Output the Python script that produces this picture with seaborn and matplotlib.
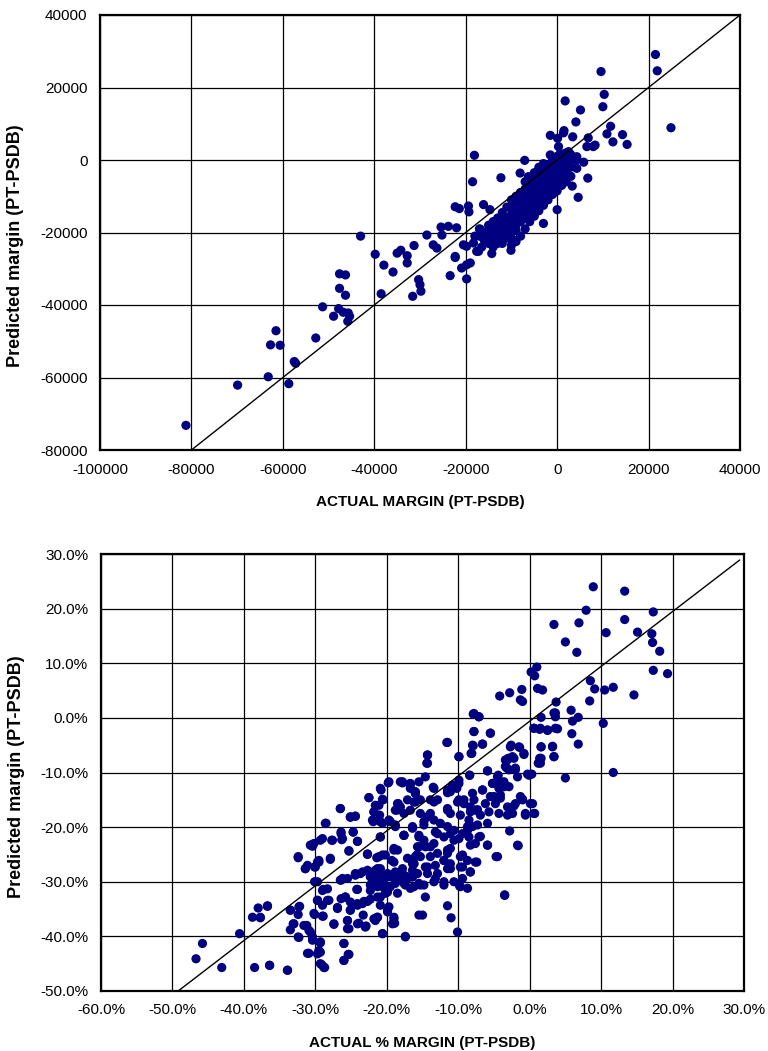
import matplotlib
matplotlib.use("Agg")
import matplotlib.pyplot as plt
import seaborn as sns
import pandas as pd

# ---------------- top chart: absolute margin ----------------
top_actual = [
    -81200, -69900, -63200, -58700, -57500, -57200, -61500, -62700, -60600, -52800,
    -51300, -48900, -47800, -46800, -45700, -45400, -45800, -47600, -46300, -47600,
    -46300, -43000, -39800, -37900, -35900, -38500, -35000, -34200, -32800, -32800,
    -31300, -31600, -30300, -30000, -29800,
    21500, 21900, 9600, 10300, 10000, 24900, 1750, 5100, 4100, 11700,
    10900, 12200, 14300, 15300, 6800, 7900, -1500, 1500, 3400, 100,
    -18100, -18500, -7100, -12300, 6700, 3300, 4600, 0, -3000, 5800,
    4200, -22300, -21400, -19400, -19300, -16100, -14700, -25400, -23800, -22000,
    -28500, -25200, -27100, -26300, -22300, -23400, -19800, -20900, -19000, -20500,
    -18300, -17200, -15400, -14300, -10100, -9600, -12500,
    1400, 300, -1500, 700, 2500, 6500, 8300, 4300, 4300, -16800,
    -19800, -22300, -19800, -17600, -8100, -6300,
    -15000, -15000, -15000, -14000, -14000, -14000, -13000, -13000, -13000, -13000,
    -12000, -12000, -12000, -12000, -11000, -11000, -11000, -11000,
    -10000, -10000, -10000, -10000, -10000, -9000, -9000, -9000, -9000, -9000,
    -8000, -8000, -8000, -8000, -8000, -7000, -7000, -7000, -7000, -7000,
    -6000, -6000, -6000, -6000, -6000, -5000, -5000, -5000, -5000, -5000,
    -4000, -4000, -4000, -4000, -4000, -3000, -3000, -3000, -3000, -3000,
    -2000, -2000, -2000, -2000, -2000, -1000, -1000, -1000, -1000, -1000,
    0, 0, 0, 0, 0, 1000, 1000, 1000, 1000, 2000, 2000, 2000, 2000,
    3000, 3000, 3000,
    -12500, -9500, -7500, -5500, -3500, -1500, 500, -6500, -4500, -2500,
    -500, 1500, -8500, -10500, -11500, -13500, -14500, -16000, -17000, -16500,
    -7000, -6000, -5000, -4000, -3000, -2000, -1000, 0, 1000, 2000, 3000,
    -8000, -9000, -10000,
    -13000, -12000, -11000, -10000, -9000, -8000, -7000, -6000, -5000, -4000,
    -3000, -14000, -15000, -16000, -17000, -18000,
]
top_predicted = [
    -73200, -62100, -59800, -61700, -55600, -56100, -47100, -51000, -51100, -49100,
    -40500, -43100, -41000, -42000, -42200, -43100, -44500, -35400, -37300, -31400,
    -31700, -21000, -26000, -29000, -30900, -36900, -25700, -24900, -26400, -28400,
    -23600, -37600, -33000, -34400, -36200,
    29100, 24600, 24400, 18100, 14700, 8900, 16300, 13800, 10500, 9300,
    7200, 5000, 7000, 4300, 6100, 3700, 6800, 8100, 6400, 6000,
    1300, -6000, -100, -4900, -5000, -7200, -10300, -13700, -17500, -600,
    0, -12900, -13400, -12700, -14300, -12300, -13700, -18500, -18300, -18700,
    -20700, -20700, -23400, -24300, -26900, -31900, -32800, -29800, -28400, -23400,
    -22900, -25200, -22500, -25800, -24900, -22000, -20600,
    7500, 3700, 1400, 1800, 2300, 3700, 4100, 900, -2300, -19100,
    -23800, -26600, -28900, -25200, -3600, -4600,
    -23000, -21000, -19500, -24000, -21500, -19000, -23000, -20500, -18000, -22000,
    -21000, -19000, -17000, -23000, -20000, -18000, -16000, -21500,
    -19000, -17000, -15000, -13000, -20000, -18000, -16000, -14000, -12000, -19500,
    -17000, -15000, -13000, -11000, -9000, -16000, -14000, -12000, -10000, -8000,
    -14500, -12500, -10500, -8500, -7000, -13000, -11000, -9000, -7000, -5500,
    -12000, -10000, -8000, -6000, -4500, -10500, -8500, -6500, -4500, -3000,
    -9000, -7000, -5000, -3000, -1500, -7500, -5500, -3500, -2000, 0,
    -6000, -4000, -2000, -500, 1000, -4500, -2500, -1000, 500, -3500, -1500, 500, 2000,
    -2000, 0, 1500,
    -20000, -15500, -13000, -9500, -7000, -4500, -3000, -11000, -8000, -6000,
    -2500, -1000, -14000, -17500, -19500, -21000, -22500, -22000, -21000, -24000,
    -19000, -17000, -15500, -14000, -12500, -11000, -9500, -8500, -7000, -6000, -4500,
    -21000, -22500, -23500,
    -16000, -14500, -13000, -11000, -10000, -9000, -6000, -5000, -3500, -2000,
    -1000, -17000, -18000, -20000, -19000, -21000,
]
top_xticks = [-100000, -80000, -60000, -40000, -20000, 0, 20000, 40000]
top_yticks = [-80000, -60000, -40000, -20000, 0, 20000, 40000]
top_diag_x = [-80000, 40000]
top_diag_y = [-80000, 40000]

# ---------------- bottom chart: % margin ----------------
bot_actual = [
    8.9, 13.3, 7.9, 17.3, 3.4, 6.9, 10.7, 13.3, 15.1, 17.1, 17.2, 18.2, 5.0, 6.6,
    17.3, 19.3, 1.0, 0.2, 0.7, 1.1, 1.8, 8.5, 9.1, 10.5, 11.7, 14.6,
    -4.2, -2.8, -1.1, -1.0, 3.7, 8.4, 5.8, 6.8, 6.0, 3.4, 3.6, 1.6, 10.3,
    -7.8, -7.1, 0.6, 1.4, 2.5, 3.9, 5.9, 6.8, -7.8, -5.5, -11.6, -7.9, -8.1, -6.6,
    -14.3, -14.4, -9.9, -2.6, -1.4, -0.8, 1.6, 3.2, 3.4, 1.6, 1.2,
    -3.4, -3.0, -2.4, -3.2, -2.0, -1.7, -5.9, -4.4, -8.4, -0.3, 0.3, 5.0, 11.7,
    -13.5, -9.9, -10.2, -11.1, -11.5,
    -6.6, -5.2, -4.3, -3.6, -2.9, -4.1, -5.0, -9.2, -7.8, -1.0, 0.1, 0.7, -0.6,
    -2.2, -3.1, -4.3, -5.7, -6.2, -7.3, -8.3, -9.9, -11.5, -12.9, -13.9, -14.8,
    -2.8, -1.6, -4.7, -5.9, -7.1, -8.3, -9.4, -7.6, -8.3, -9.7, -11.1, -12.0,
    -11.5, -10.6, -8.7, -13.2, -13.9, -14.3, -13.2, -12.0, -9.4, -9.8, -8.7,
    -14.6, -3.5, -11.5, -11.0, -10.1, -15.0, -15.3, -15.3,
    -45.8, -46.7, -43.1, -40.6, -38.5, -36.4, -33.9, -38.0, -36.7, -38.8, -37.7,
    -33.5, -32.2, -32.4, -33.1, -33.5, -32.4, -31.2, -30.7, -30.4, -29.3, -29.3,
    -29.7, -31.1, -29.1, -28.7, -26.0, -25.4, -26.0, -27.4, -25.5, -24.1, -22.9,
    -25.5, -23.3, -21.8, -21.3, -20.6, -17.4, -19.0, -18.9, -15.5, -30.1, -28.9,
    -26.9, -25.8, -25.1, -24.1, -23.2, -22.3, -25.1, -29.7, -28.1, -26.4,
    -29.7, -28.9, -26.4, -25.5, -24.4, -23.4, -24.2,
    -22.0, -21.3, -20.6, -19.9, -20.4, -19.5, -18.8, -18.1, -17.4, -16.7, -16.4,
    -15.5, -20.9, -19.7, -19.9, -21.6,
    -32.4, -31.4, -30.1, -29.5, -30.7, -29.3, -30.4, -27.9, -27.7, -26.4, -26.3,
    -24.7, -24.1, -25.3, -28.6, -26.5, -25.1, -24.4, -22.7, -21.4, -20.6,
    -20.9, -19.0, -17.6, -16.4,
    -22.5, -20.9, -19.8, -20.6, -21.6, -21.8, -21.0, -21.9, -20.6, -19.5, -18.8,
    -18.8, -18.4, -17.8, -16.8, -16.0, -16.0, -15.5, -15.5, -15.8,
    -16.4, -17.8, -18.8, -17.6, -19.0, -20.9, -21.6, -22.7,
    -19.7, -17.8, -16.7, -16.0, -20.8, -20.5, -22.5, -21.1, -21.8, -22.0, -26.5,
    -25.1, -24.4, -28.5, -18.5, -18.6, -20.9, -19.7, -18.8, -16.4, -17.6, -20.9,
    -26.4, -26.2, -24.7, -24.1, -27.6, -29.0, -30.2, -30.4,
    -32.4, -27.9, -25.3, -22.7, -31.1, -31.4, -30.0, -29.5,
    -21.1, -20.2, -19.3, -18.5, -19.0, -17.1, -16.2, -16.4, -15.7,
    -21.3, -22.3, -21.6, -20.9, -19.9, -19.2, -18.5, -18.1, -17.1, -16.4,
    -22.3, -21.3, -20.4, -19.5, -18.5, -20.2, -21.3, -20.9, -19.9, -22.3,
    -26.5, -26.2, -24.4, -23.7, -24.1, -22.7, -23.4, -24.1, -25.8, -26.9, -25.1,
    -29.0, -29.7, -28.3,
    -30.2, -29.0, -27.4, -25.5, -25.3, -23.9, -23.0, -21.6, -21.3, -19.0, -19.2,
    -20.6, -17.4, -26.0, -25.3, -26.0,
    -33.5, -32.3, -33.0, -31.6, -30.9, -30.4, -29.3, -29.5, -30.9, -32.3, -29.3,
    -28.8, -36.4, -33.9, -36.7, -37.7, -29.7, -30.1, -29.0, -28.3,
    -7.9, -7.1, -7.8, -5.5, -11.5, -8.0, -6.6, -8.2, -9.9, -14.3, -14.3,
    -2.7, -1.5, -0.8, -3.1, -2.2, -3.4, -2.9, -2.0,
    -5.9, -8.4, -9.9, -10.8, -11.5, -13.4, -14.6, -15.5, -16.7, -18.1,
    -0.1, 1.5, 1.4, 3.4, 3.2, 1.6, 0.6, 1.5, 2.5, 3.6, 3.6, -1.3,
    -8.0, -6.6, -5.2, -4.3, -4.5, -3.6, -5.5, -4.1, -4.8, -3.1, -2.4, -2.0, -1.0,
    0.4, -0.6, 0.6, -1.3,
    -8.3, -7.6, -6.9, -8.5, -9.7, -11.1, -11.5, -10.1, -9.2,
    -5.9, -7.3, -8.0, -8.7, -9.4, -9.9, -8.5, -6.9, -7.6, -5.9, -4.5, -7.4, -8.7,
    -9.7, -9.4, -8.3, -1.7, -3.5,
    -16.7, -16.0, -15.3, -16.2, -17.1, -18.1, -17.6, -16.7, -13.9, -13.4, -15.3,
    -14.3, -13.4, -12.5, -11.5, -14.8, -16.4, -17.6, -15.5, -14.8, -15.7, -14.6,
    -13.4, -12.9, -12.0, -11.1, -10.6, -11.1, -11.5, -12.9, -13.9, -16.0, -16.2,
    -14.6, -13.2, -12.0, -11.1, -11.5, -12.9, -14.3, -15.7, -17.1, -17.6, -16.2,
    -14.8, -13.4, -12.0, -10.6, -9.7,
]
bot_predicted = [
    24.0, 23.2, 19.7, 19.4, 17.1, 17.4, 15.6, 18.0, 15.7, 15.4, 13.8, 12.2, 13.9, 12.0,
    8.7, 8.1, 9.3, 8.4, 7.7, 5.4, 5.1, 6.8, 5.3, 5.1, 5.6, 4.2,
    4.0, 4.6, 5.2, 3.0, 2.9, 3.1, 1.4, 0.1, -0.6, 0.9, 0.2, 0.1, -1.0,
    0.8, 0.2, -1.9, -2.1, -2.3, -2.0, -2.9, -4.8, -2.5, -2.8, -4.5, -5.1, -6.5, -4.8,
    -6.8, -8.3, -7.1, -5.0, -5.4, -6.7, -5.3, -5.2, -7.1, -7.4, -8.3,
    -7.7, -7.4, -7.1, -9.2, -9.2, -10.8, -9.7, -10.5, -10.5, -10.3, -10.3, -11.0, -10.0,
    -12.7, -12.0, -12.9, -13.5, -13.7,
    -13.2, -12.0, -11.7, -12.6, -12.6, -14.1, -14.4, -15.0, -15.0, -14.9, -15.7, -17.5, -17.8,
    -16.1, -17.8, -17.5, -17.2, -15.7, -16.8, -17.2, -15.0, -16.9, -15.0, -17.5, -19.0,
    -20.7, -23.4, -25.4, -23.3, -21.8, -23.3, -25.1, -26.4, -28.2, -27.3, -27.6, -26.1,
    -24.2, -20.6, -19.9, -20.9, -23.6, -27.3, -29.4, -30.6, -29.4, -30.8, -31.2,
    -32.8, -32.5, -34.4, -36.6, -39.2, -36.1, -30.6, -25.4,
    -41.3, -44.1, -45.7, -39.5, -45.7, -45.3, -46.2, -34.8, -34.4, -36.5, -36.6,
    -35.2, -34.5, -36.0, -37.7, -38.8, -40.1, -38.0, -39.2, -40.7, -41.2, -42.9,
    -43.2, -43.1, -45.2, -45.7, -41.3, -43.3, -44.4, -37.8, -38.6, -37.7, -38.1,
    -37.1, -36.1, -36.8, -36.5, -39.5, -40.0, -36.5, -37.6, -36.1, -36.0, -36.3,
    -34.7, -32.8, -33.7, -34.0, -33.6, -33.2, -35.2, -33.4, -33.4, -33.1,
    -30.0, -31.4, -29.7, -29.4, -28.8, -28.2, -31.4,
    -29.1, -30.0, -30.9, -31.9, -29.7, -29.1, -30.3, -29.1, -30.6, -31.2, -29.1,
    -30.3, -32.8, -34.6, -35.5, -36.7,
    -25.6, -27.6, -27.3, -26.4, -23.3, -22.4, -23.2, -25.9, -22.4, -21.2, -22.3,
    -20.9, -22.6, -24.4, -19.3, -16.6, -18.1, -18.0, -25.0, -25.6, -25.1,
    -21.8, -24.2, -21.5, -20.2,
    -14.6, -12.9, -11.9, -14.9, -16.0, -17.2, -17.8, -19.0, -19.3, -19.0, -19.6,
    -16.9, -15.7, -11.9, -12.1, -13.8, -15.4, -21.8, -23.6, -25.1,
    -26.7, -27.6, -28.2, -28.8, -26.4, -27.6, -27.9, -27.9,
    -11.7, -11.7, -12.3, -13.5, -13.2, -15.0, -14.6, -16.0, -17.2, -18.7, -16.6,
    -18.2, -18.0, -19.3, -15.7, -16.9, -19.0, -18.7, -19.9, -20.1, -21.5, -21.8,
    -20.9, -22.1, -20.9, -22.6, -22.4, -22.1, -23.0, -23.5,
    -25.4, -25.7, -24.3, -24.9, -27.0, -27.6, -27.3, -26.1,
    -25.4, -25.1, -26.1, -24.2, -23.9, -25.7, -26.7, -27.9, -25.1,
    -27.6, -29.1, -29.1, -28.8, -28.5, -29.1, -28.5, -29.4, -29.4, -29.1,
    -30.6, -30.9, -30.9, -30.9, -32.1, -32.1, -32.8, -34.3, -35.2, -31.6,
    -29.7, -29.4, -28.5, -28.5, -31.4, -33.6, -34.0, -34.3, -32.8, -34.9, -35.2,
    -34.3, -33.4, -33.4,
    -35.8, -36.3, -37.7, -37.1, -38.6, -37.6, -38.3, -37.1, -36.5, -36.8, -37.7,
    -39.5, -40.1, -41.3, -43.3, -44.4,
    -35.2, -34.6, -37.7, -38.0, -38.9, -40.1, -41.0, -42.6, -43.1, -40.2, -45.0,
    -45.7, -45.3, -46.2, -34.5, -36.5, -26.4, -30.0, -31.6, -31.3,
    0.7, 0.2, -2.5, -2.8, -4.5, -5.0, -4.8, -6.5, -7.1, -6.8, -8.3,
    -5.3, -5.3, -6.5, -7.7, -7.4, -8.9, -9.5, -9.5,
    -9.7, -10.5, -11.4, -12.3, -13.2, -12.9, -10.8, -11.7, -12.0, -11.7,
    -10.5, -8.3, -7.4, -7.1, -5.3, -5.3, -1.9, -1.9, -2.2, -1.9, 0.9, 3.3,
    -13.8, -13.2, -12.0, -12.9, -10.8, -11.7, -14.4, -14.7, -15.7, -16.3, -17.5, -15.7, -15.0,
    -15.7, -17.5, -17.5, -14.4,
    -16.3, -16.9, -17.8, -18.7, -17.8, -17.5, -16.6, -15.4, -15.7,
    -19.3, -19.6, -19.9, -20.6, -21.2, -22.1, -21.8, -21.7, -23.0, -23.3, -25.4, -26.4, -26.1,
    -25.4, -27.3, -28.2, -23.3, -32.4,
    -12.9, -13.8, -15.0, -15.4, -15.0, -16.3, -17.5, -16.9, -15.0, -15.4, -17.5,
    -18.1, -18.7, -19.3, -19.9, -19.6, -19.9, -21.5, -21.5, -22.4, -23.6, -23.6,
    -23.0, -21.2, -21.8, -21.2, -22.4, -23.9, -24.8, -24.8, -25.4, -25.4, -26.7,
    -27.3, -27.0, -26.1, -26.7, -27.6, -28.5, -28.5, -28.5, -29.1, -30.3, -30.9,
    -30.6, -30.0, -30.0, -30.0, -30.9,
]
bot_xticks = [-60, -50, -40, -30, -20, -10, 0, 10, 20, 30]
bot_yticks = [-50, -40, -30, -20, -10, 0, 10, 20, 30]
bot_diag_x = [-49.2, 29.4]
bot_diag_y = [-50.0, 28.9]

top_df = pd.DataFrame({"actual": top_actual, "predicted": top_predicted})
bot_df = pd.DataFrame({"actual": bot_actual, "predicted": bot_predicted})

sns.set_style("white")
plt.rcParams["font.family"] = ["Liberation Sans", "DejaVu Sans"]
for key in ["text.color", "axes.labelcolor", "xtick.color", "ytick.color"]:
    plt.rcParams[key] = "black"

fig = plt.figure(figsize=(7.68, 10.51), dpi=100)
ax1 = fig.add_axes([100 / 768, 1 - 450 / 1051, 640 / 768, 435 / 1051])
ax2 = fig.add_axes([101 / 768, 1 - 991 / 1051, 643 / 768, 437 / 1051])

navy = "#000080"

def style(ax, xticks, yticks, xfmt, yfmt, xlabel, ylab_y):
    ax.set_xlim(xticks[0], xticks[-1])
    ax.set_ylim(yticks[0], yticks[-1])
    ax.set_xticks(xticks)
    ax.set_yticks(yticks)
    ax.set_xticklabels([xfmt(v) for v in xticks], fontsize=11)
    ax.set_yticklabels([yfmt(v) for v in yticks], fontsize=11)
    ax.grid(True, color="black", linewidth=0.9)
    ax.set_axisbelow(True)
    ax.tick_params(length=0, pad=9)
    for s in ax.spines.values():
        s.set_color("black")
        s.set_linewidth(1.6)
    ax.set_xlabel(xlabel, fontsize=11, fontweight="bold", labelpad=13)
    ax.set_ylabel("Predicted margin (PT-PSDB)", fontsize=13, fontweight="bold")
    ax.yaxis.set_label_coords(-0.118, ylab_y)

sns.scatterplot(data=top_df, x="actual", y="predicted", ax=ax1, color=navy,
                s=44, edgecolor="none", linewidth=0, zorder=3)
ax1.plot(top_diag_x, top_diag_y, color="black", linewidth=1.0, zorder=4)
style(ax1, top_xticks, top_yticks, lambda v: f"{v:d}", lambda v: f"{v:d}",
      "ACTUAL MARGIN (PT-PSDB)", 0.47)

sns.scatterplot(data=bot_df, x="actual", y="predicted", ax=ax2, color=navy,
                s=44, edgecolor="none", linewidth=0, zorder=3)
ax2.plot(bot_diag_x, bot_diag_y, color="black", linewidth=1.0, zorder=4)
style(ax2, bot_xticks, bot_yticks, lambda v: f"{v:.1f}%", lambda v: f"{v:.1f}%",
      "ACTUAL % MARGIN (PT-PSDB)", 0.49)

fig.savefig("out.png", dpi=100)
